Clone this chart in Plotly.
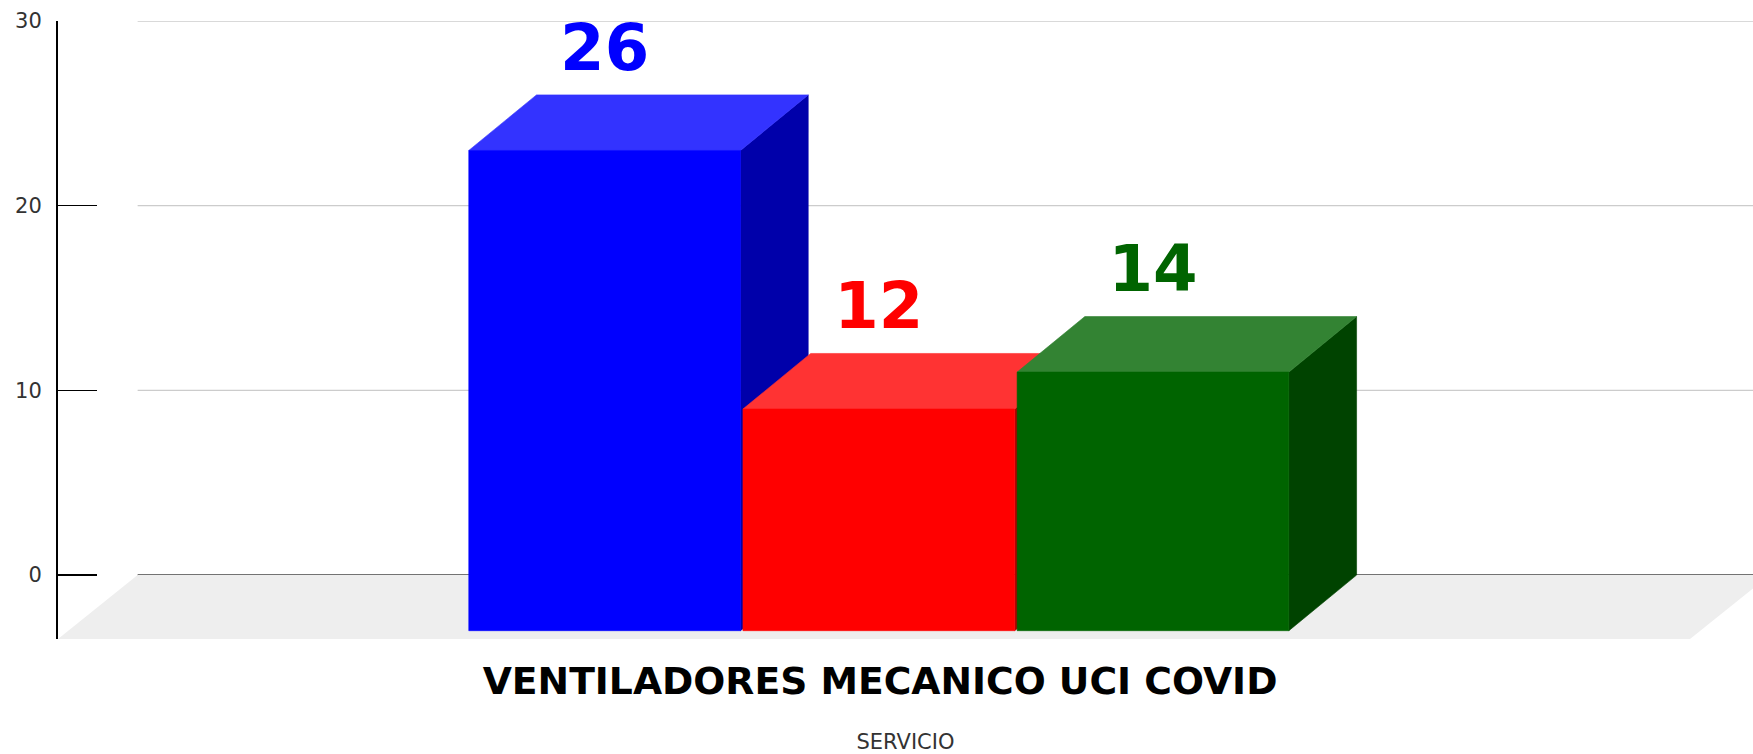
import plotly.graph_objects as go

# ---------------- data ----------------
categories = ["VENTILADORES MECANICO UCI COVID"]
series_values = [26, 12, 14]
front_colors = ["#0000ff", "#ff0000", "#006400"]
top_colors = ["#3333ff", "#ff3333", "#338333"]
side_colors = ["#0000aa", "#aa0000", "#004300"]
y_tick_values = [0, 10, 20, 30]
x_title = "SERVICIO"

# ---------------- geometry (style constants) ----------------
X_RANGE = [-0.5037, 0.5349]   # category 0 centred, one category = front-plane width
Y_RANGE = [-3.46, 30]
FLOOR_DX = 0.0488             # 3D depth of the floor (x units)
FLOOR_DY = -Y_RANGE[0]        # 3D depth of the floor (y units)
BAR_DX = 0.0415               # 3D depth of columns
BAR_DY = 3.01
CLUSTER_W = 0.504             # fraction of category used by the cluster
BAR_GAP = 0.0015
LABEL_OFFSET = 2.23           # value-label distance above column top (y units)

fig = go.Figure()

# floor
fx0 = X_RANGE[0]
fx1 = X_RANGE[0] + 1.0
fig.add_trace(go.Scatter(
    x=[fx0, fx1, fx1 + FLOOR_DX, fx0 + FLOOR_DX, fx0],
    y=[-FLOOR_DY, -FLOOR_DY, 0, 0, -FLOOR_DY],
    fill="toself", fillcolor="#eeeeee", mode="lines",
    line=dict(width=0, color="#eeeeee"), hoverinfo="skip", showlegend=False))

# gridlines on the back wall
shapes = []
for t in y_tick_values:
    shapes.append(dict(
        type="line", xref="x", yref="y",
        x0=fx0 + FLOOR_DX, x1=X_RANGE[1], y0=t, y1=t,
        line=dict(color="#444444" if t == 0 else "#cccccc",
                  width=1.8 if t == 0 else 1.3),
        layer="below"))

# 3D columns
n = len(series_values)
slot = CLUSTER_W / n
bw = slot - BAR_GAP
label_x, label_y = [], []
for ci, _ in enumerate(categories):
    for i, v in enumerate(series_values):
        xl = ci - CLUSTER_W / 2 + i * slot
        xr = xl + bw
        yb = -BAR_DY
        yt = v - BAR_DY
        faces = [
            ([xr, xr + BAR_DX, xr + BAR_DX, xr, xr],
             [yb, 0, v, yt, yb], side_colors[i]),
            ([xl, xr, xr + BAR_DX, xl + BAR_DX, xl],
             [yt, yt, v, v, yt], top_colors[i]),
            ([xl, xr, xr, xl, xl],
             [yb, yb, yt, yt, yb], front_colors[i]),
        ]
        for fxs, fys, col in faces:
            fig.add_trace(go.Scatter(
                x=fxs, y=fys, fill="toself", fillcolor=col, mode="lines",
                line=dict(width=0.6, color=col), hoverinfo="skip",
                showlegend=False))
        label_x.append((xl + xr) / 2)
        label_y.append(v + LABEL_OFFSET)

# value labels
fig.add_trace(go.Scatter(
    x=label_x, y=label_y, mode="text",
    text=[str(v) for v in series_values],
    textposition="middle center",
    textfont=dict(family="DejaVu Sans", size=64, color=front_colors, weight="bold"),
    hoverinfo="skip", showlegend=False, cliponaxis=False))

fig.update_layout(
    width=1753, height=754,
    margin=dict(l=58, r=0, t=21, b=115, autoexpand=False),
    paper_bgcolor="white", plot_bgcolor="white",
    hovermode=False, showlegend=False,
    shapes=shapes,
    xaxis=dict(
        range=X_RANGE, showgrid=False, zeroline=False, showline=False,
        automargin=False,
        tickmode="array", tickvals=list(range(len(categories))), ticktext=categories,
        ticks="", ticklabelstandoff=16,
        tickfont=dict(family="DejaVu Sans", size=37.7, color="#000000", weight="bold"),
        title=dict(text=x_title, standoff=44,
                   font=dict(family="DejaVu Sans", size=21, color="#333333")),
        fixedrange=True),
    yaxis=dict(
        range=Y_RANGE, showgrid=False, zeroline=False, automargin=False,
        showline=True, linecolor="#000000", linewidth=2,
        tickmode="array", tickvals=y_tick_values,
        ticks="inside", ticklen=39, tickwidth=1.5, tickcolor="#000000",
        ticklabelstandoff=10,
        tickfont=dict(family="DejaVu Sans", size=21, color="#333333"),
        fixedrange=True),
)

fig.write_html(
    "out.html",
    config={"displayModeBar": False, "staticPlot": True},
    post_script="document.body.style.margin='0';document.body.style.overflow='hidden';",
)
